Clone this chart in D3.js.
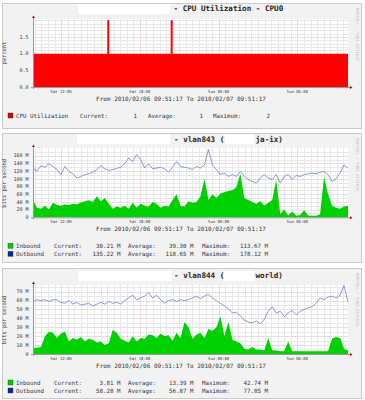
<!DOCTYPE html>
<html>
<head>
<meta charset="utf-8">
<script src="https://cdn.jsdelivr.net/npm/d3@7"></script>
<style>
	body { margin: 0; background: #fff; }
	svg text { font-family: "DejaVu Sans Mono", monospace; }
</style>
</head>
<body>
<svg id="chart" width="365" height="400"></svg>
<script>
/*=================================
	DATA
**===============================*/

//Time window (same for all three graphs)
var startTime = new Date(2010, 1, 6, 9, 51, 17),
	endTime = new Date(2010, 1, 7, 9, 51, 17);
var xTickTimes = [new Date(2010, 1, 6, 12, 0, 0), new Date(2010, 1, 6, 18, 0, 0),
	new Date(2010, 1, 7, 0, 0, 0), new Date(2010, 1, 7, 6, 0, 0)];
var xTickLabels = ["Sat 12:00", "Sat 18:00", "Sun 00:00", "Sun 06:00"];
var rangeText = "From 2010/02/06 09:51:17 To 2010/02/07 09:51:17";

//CPU (percent)
var cpuValues = [
	1,1,1,1,1,1,1,1,1,1, 1,1,1,1,1,1,1,1,1,1,
	1,1,1,1,1,1,1,1,1,1, 1,1,1,1,1,1,1,1,2,1,
	1,1,1,1,1,1,1,1,1,1, 1,1,1,1,1,1,1,1,1,1,
	1,1,1,1,1,1,1,1,1,1, 2,1,1,1,1,1,1,1,1,1,
	1,1,1,1,1,1,1,1,1,1, 1,1,1,1,1,1,1,1,1,1,
	1,1,1,1,1,1,1,1,1,1, 1,1,1,1,1,1,1,1,1,1,
	1,1,1,1,1,1,1,1,1,1, 1,1,1,1,1,1,1,1,1,1,
	1,1,1,1,1,1,1,1,1,1, 1,1,1,1,1,1,1,1,1,1
];
var cpuTicks = [0, 0.5, 1.0, 1.5];
var cpuStats = ["1", "1", "2"];

//vlan843 (Mbit/s)
var vlan843In = [
	45,25,22,30,20,38,32,30,33,32, 35,34,38,42,44,40,55,42,50,35,
	22,28,25,30,22,38,25,35,30,28, 40,35,25,30,28,45,60,30,28,42,
	38,40,55,100,45,60,50,62,65,68, 70,78,113,50,45,40,35,42,30,38,
	45,97,8,20,5,15,4,6,18,5, 4,4,8,105,60,30,25,22,28,30
];
var vlan843Out = [
	128,119,134,130,139,132,124,111,132,119, 113,102,106,111,113,117,124,134,126,122,
	124,127,130,139,154,145,163,150,128,139, 126,128,130,126,117,130,145,132,130,128,
	124,132,128,136,176,136,124,111,115,106, 111,106,119,106,98,93,89,102,111,102,
	98,111,89,106,111,98,109,106,111,113, 115,113,117,119,111,93,100,115,136,128
];
var vlan843Ticks = [0, 20, 40, 60, 80, 100, 120, 140, 160];
var vlan843InStats = ["30.21 M", "39.30 M", "113.67 M"];
var vlan843OutStats = ["135.22 M", "118.65 M", "178.12 M"];

//vlan844 (Mbit/s)
var vlan844In = [
	7,7,8,20,25,24,18,23,25,14, 18,16,19,14,17,16,13,14,10,12,
	27,24,17,15,13,20,14,18,17,22, 21,18,23,20,21,15,24,18,36,30,
	17,22,24,18,28,26,30,42,20,36, 16,14,12,6,5,8,5,5,4,18,
	4,4,3,3,14,3,3,3,3,3, 3,3,3,3,3,17,19,18,6,4
];
var vlan844Out = [
	59,61,60,61,59,61,61,58,57,60, 56,58,55,56,57,54,56,58,56,59,
	57,58,56,60,63,66,61,63,65,69, 63,66,61,57,60,61,59,61,60,61,
	63,65,62,65,67,63,60,57,54,51, 46,47,43,38,36,35,37,34,39,48,
	53,46,48,42,46,49,44,48,50,52, 53,57,63,61,64,65,63,66,77,58
];
var vlan844Ticks = [0, 10, 20, 30, 40, 50, 60, 70];
var vlan844InStats = ["3.81 M", "13.39 M", "42.74 M"];
var vlan844OutStats = ["58.28 M", "56.87 M", "77.85 M"];

/*=================================
	SETUP
**===============================*/

var svg = d3.select("#chart");
var plotLeft = 33,
	plotRight = 348;

var x = d3.scaleTime().domain([startTime, endTime]).range([plotLeft, plotRight]);

//sample times spread evenly over the window
function sampleTimes(n) {
	return d3.range(n).map(function(i) {
		return new Date(+startTime + i * (endTime - startTime) / (n - 1));
	});
}

function fmtMega(v) {
	return v === 0 ? "0" : v + " M";
}

/*=================================
	PANEL
**===============================*/

function drawPanel(p) {
	var g = svg.append("g");
	var y = d3.scaleLinear().domain([0, p.yMax]).range([p.plotBottom, p.plotTop]);

	//frame
	g.append("rect")
		.attr("x", 2.5).attr("y", p.top + 0.5)
		.attr("width", 359).attr("height", p.bottom - p.top)
		.attr("fill", "#f2f2f2").attr("stroke", "#c9c9c9");

	//canvas
	g.append("rect")
		.attr("x", plotLeft).attr("y", p.plotTop)
		.attr("width", plotRight - plotLeft).attr("height", p.plotBottom - p.plotTop)
		.attr("fill", "#fff");

	//minor grid
	var minorX = d3.timeMinute.every(30).range(startTime, endTime);
	g.append("g").selectAll("line").data(minorX).join("line")
		.attr("x1", function(d) { return Math.round(x(d)) + 0.5; })
		.attr("x2", function(d) { return Math.round(x(d)) + 0.5; })
		.attr("y1", p.plotTop).attr("y2", p.plotBottom)
		.attr("stroke", "#e8e8e8");
	var minorY = d3.range(p.minorStep, p.yMax, p.minorStep);
	g.append("g").selectAll("line").data(minorY).join("line")
		.attr("x1", plotLeft).attr("x2", plotRight)
		.attr("y1", function(d) { return Math.round(y(d)) + 0.5; })
		.attr("y2", function(d) { return Math.round(y(d)) + 0.5; })
		.attr("stroke", "#e8e8e8");

	//major grid
	g.append("g").selectAll("line").data(xTickTimes).join("line")
		.attr("x1", function(d) { return Math.round(x(d)) + 0.5; })
		.attr("x2", function(d) { return Math.round(x(d)) + 0.5; })
		.attr("y1", p.plotTop).attr("y2", p.plotBottom)
		.attr("stroke", "#f3d0d0").attr("stroke-dasharray", "1,1");
	g.append("g").selectAll("line").data(p.ticks.slice(1)).join("line")
		.attr("x1", plotLeft).attr("x2", plotRight)
		.attr("y1", function(d) { return Math.round(y(d)) + 0.5; })
		.attr("y2", function(d) { return Math.round(y(d)) + 0.5; })
		.attr("stroke", "#f3d0d0").attr("stroke-dasharray", "1,1");

	//areas + lines
	p.series.forEach(function(s) {
		var times = sampleTimes(s.values.length);
		var pts = s.values.map(function(v, i) { return [times[i], v]; });
		if (s.type == "area") {
			var area = d3.area()
				.curve(s.curve || d3.curveLinear)
				.x(function(d) { return x(d[0]); })
				.y0(p.plotBottom)
				.y1(function(d) { return y(d[1]); });
			g.append("path").attr("d", area(pts)).attr("fill", s.color);
		} else {
			var line = d3.line()
				.x(function(d) { return x(d[0]); })
				.y(function(d) { return y(d[1]); });
			g.append("path").attr("d", line(pts))
				.attr("fill", "none").attr("stroke", s.color).attr("stroke-width", 0.8);
		}
	});

	//axes
	g.append("line")
		.attr("x1", plotLeft - 2).attr("x2", plotRight + 2)
		.attr("y1", p.plotBottom + 0.5).attr("y2", p.plotBottom + 0.5)
		.attr("stroke", "#999");
	g.append("line")
		.attr("x1", plotLeft + 0.5).attr("x2", plotLeft + 0.5)
		.attr("y1", p.plotBottom + 2).attr("y2", p.plotTop - 2)
		.attr("stroke", "#999");
	g.append("path")
		.attr("d", "M" + (plotLeft - 1) + "," + (p.plotTop - 1) + "l1.5,-2.5l1.5,2.5z")
		.attr("fill", "#b00");
	g.append("path")
		.attr("d", "M" + (plotRight + 2) + "," + (p.plotBottom - 1) + "l2.5,1.5l-2.5,1.5z")
		.attr("fill", "#b00");

	//y tick labels
	g.append("g").selectAll("text").data(p.ticks).join("text")
		.attr("x", 28.5).attr("y", function(d) { return y(d) + 1.7; })
		.attr("text-anchor", "end").attr("font-size", 5).attr("fill", "#333")
		.text(p.tickFormat);

	//x tick labels
	g.append("g").selectAll("text").data(xTickTimes).join("text")
		.attr("x", function(d) { return x(d); }).attr("y", p.plotBottom + 6)
		.attr("text-anchor", "middle").attr("font-size", 3.9).attr("fill", "#333")
		.text(function(d, i) { return xTickLabels[i]; });

	//y title
	g.append("text")
		.attr("transform", "translate(6," + (p.plotBottom - 34) + ") rotate(-90)")
		.attr("text-anchor", "middle").attr("font-size", 5.4).attr("fill", "#333")
		.text(p.yTitle);

	//title with the hidden host name boxes
	p.blanks.forEach(function(b) {
		g.append("rect").attr("x", b[0]).attr("y", p.plotBottom - 83)
			.attr("width", b[1] - b[0]).attr("height", 10).attr("fill", "#fff");
	});
	p.title.forEach(function(t) {
		g.append("text").attr("x", t[0]).attr("y", p.plotBottom - 75.8)
			.attr("font-size", 7.6).attr("font-weight", "bold").attr("fill", "#222")
			.text(t[1]);
	});

	//period
	g.append("text")
		.attr("x", 181).attr("y", p.plotBottom + 13.6)
		.attr("text-anchor", "middle").attr("font-size", 6).attr("fill", "#333")
		.text(rangeText);

	//legend
	p.legend.forEach(function(row, r) {
		var ly = p.plotBottom + 28.5 + r * 8;
		g.append("rect").attr("x", 8).attr("y", ly - 2.5).attr("width", 5).attr("height", 5)
			.attr("fill", row.color).attr("stroke", "#333").attr("stroke-width", 0.4);
		var lg = g.append("g").attr("font-size", 5.8).attr("fill", "#333");
		lg.append("text").attr("x", 16).attr("y", ly + 2).text(row.name);
		["Current:", "Average:", "Maximum:"].forEach(function(lab, k) {
			lg.append("text").attr("x", p.legendCols[k][0]).attr("y", ly + 2).text(lab);
			lg.append("text").attr("x", p.legendCols[k][1]).attr("y", ly + 2)
				.attr("text-anchor", "end").text(row.stats[k]);
		});
	});

	//rrdtool watermark
	g.append("text")
		.attr("transform", "translate(356," + (p.top + 5) + ") rotate(90)")
		.attr("font-size", 4).attr("fill", "#c4c4c4")
		.text("RRDTOOL / TOBI OETIKER");
}

/*=================================
	GRAPHS
**===============================*/

drawPanel({
	top: 3, bottom: 128, plotBottom: 87, plotTop: 19, yMax: 2.04,
	ticks: cpuTicks, minorStep: 0.1,
	tickFormat: function(d) { return d.toFixed(1); },
	yTitle: "percent",
	blanks: [[78, 170]],
	title: [[173.5, "- CPU Utilization - CPU0"]],
	series: [{type: "area", values: cpuValues, color: "#ff0000", curve: d3.curveStep}],
	legendCols: [[80, 137], [148, 203], [213, 270]],
	legend: [{name: "CPU Utilization", color: "#d00000", stats: cpuStats}]
});

drawPanel({
	top: 133, bottom: 262, plotBottom: 217.3, plotTop: 148, yMax: 180,
	ticks: vlan843Ticks, minorStep: 10,
	tickFormat: fmtMega,
	yTitle: "bits per second",
	blanks: [[77, 170], [225, 254]],
	title: [[174, "- vlan843 ("], [255.5, "ja-ix)"]],
	series: [
		{type: "area", values: vlan843In, color: "#00cf00"},
		{type: "line", values: vlan843Out, color: "#6f80c4"}
	],
	legendCols: [[54, 120.5], [128, 193.5], [202, 268]],
	legend: [
		{name: "Inbound", color: "#00cf00", stats: vlan843InStats},
		{name: "Outbound", color: "#002a97", stats: vlan843OutStats}
	]
});

drawPanel({
	top: 268, bottom: 398, plotBottom: 354, plotTop: 285, yMax: 77.5,
	ticks: vlan844Ticks, minorStep: 5,
	tickFormat: fmtMega,
	yTitle: "bits per second",
	blanks: [[78, 172], [223, 254]],
	title: [[174, "- vlan844 ("], [255.5, "world)"]],
	series: [
		{type: "area", values: vlan844In, color: "#00cf00"},
		{type: "line", values: vlan844Out, color: "#6f80c4"}
	],
	legendCols: [[54, 120.5], [128, 193.5], [202, 268]],
	legend: [
		{name: "Inbound", color: "#00cf00", stats: vlan844InStats},
		{name: "Outbound", color: "#002a97", stats: vlan844OutStats}
	]
});
</script>
</body>
</html>
